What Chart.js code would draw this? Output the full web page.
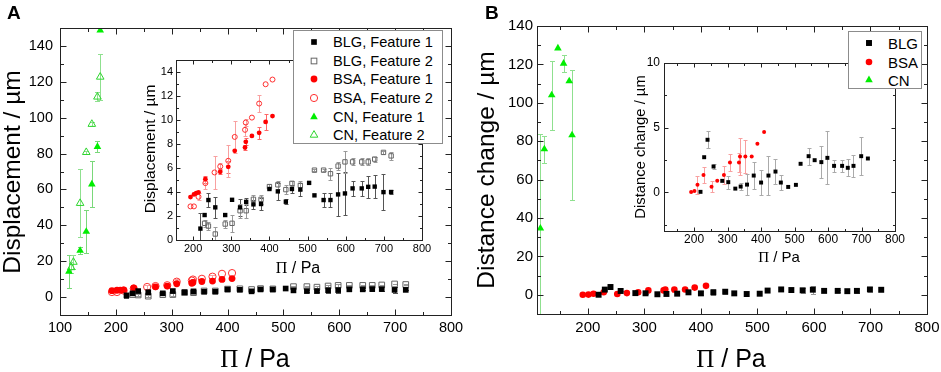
<!DOCTYPE html>
<html>
<head>
<meta charset="utf-8">
<script src="https://cdn.jsdelivr.net/npm/chart.js@4.4.1/dist/chart.umd.min.js"></script>
<style>
html, body { margin: 0; padding: 0; background: #fff; overflow: hidden; }
body { width: 941px; height: 372px; position: relative; font-family: 'Liberation Sans', Arial, sans-serif; }
canvas { position: absolute; }
.legend { position: absolute; background: #fff; border: 1px solid #8c8c8c; box-sizing: border-box; }
.legend span { position: absolute; white-space: nowrap; color: #000; transform: translateY(-50%); }
.legend svg { position: absolute; }
</style>
</head>
<body>
<canvas id="mainA"></canvas>
<canvas id="insetA"></canvas>
<div class="legend" id="legendA"></div>
<canvas id="mainB"></canvas>
<canvas id="insetB"></canvas>
<div class="legend" id="legendB"></div>
<script>
// ---- data ----
// BLG: surface pressure (Pa)
const blgPi = [219, 230, 240, 258, 284, 302, 323, 339, 358, 378, 400, 422, 443, 459, 481, 504, 518, 542, 560, 580, 598, 618, 642, 659, 676, 699, 719];
const blgDisp1 = [0.95, 2.08, 3.33, 2.72, 2.08, 3.35, 2.72, 3.18, 2.97, 3.0, 4.25, 4.05, 3.19, 4.25, 4.2, 4.76, 3.72, 3.33, 3.33, 3.8, 3.88, 4.3, 4.3, 4.43, 4.45, 3.99, 4.0];
const blgDisp1Err = [1.3, 0, 0.55, 0.9, 0, 0, 0.7, 0.3, 0.35, 0.5, 0, 0.7, 0.2, 0.35, 0.55, 0, 0, 0.55, 0.55, 1.8, 1.77, 0.64, 0.64, 0.94, 0.94, 1.48, 0.15];
const blgDisp2 = [null, 1.39, 1.16, 0.5, 1.33, 1.39, 2.44, 2.44, 3.39, 3.39, 4.45, 4.6, 4.2, 4.72, 4.55, null, 5.82, 5.82, 5.52, 6.16, 6.51, 6.51, 6.51, 6.51, 6.74, 7.3, 7.01];
const blgDisp2Err = [0, 0.3, 0.3, 0.6, 0.3, 0.7, 0.6, 0.6, 0.4, 0.4, 0.2, 0.35, 0.35, 0.2, 0.4, 0, 0.1, 0.1, 0.5, 0.3, 0.9, 0.3, 0.3, 0.3, 0.2, 0.1, 0.35];
const blgDist = [0.03, 2.71, 4.06, 1.99, 0.88, 0.78, 0.28, 0.44, 0.59, 1.29, 0.75, 1.29, 1.6, 0.75, 0.41, 0.57, 2.2, 2.79, 2.48, 2.33, 2.66, 2.04, 2.04, 1.89, 2.04, 2.79, 2.61];
const blgDistErr = [0, 0, 0.65, 0.2, 0, 0.5, 0, 0.3, 0.8, 1.05, 1.0, 1.5, 1.0, 0.6, 0, 0, 0, 0.65, 0, 1.25, 2.05, 0.45, 0.45, 0.65, 0.85, 1.45, 0];

// BSA
const bsaPiA = [193, 202, 208, 214, 232, 256, 271, 292, 309, 336, 338, 354, 373, 390, 408];
const bsaDisp1 = [3.58, 3.8, 3.91, 3.97, 5.07, null, 5.68, 6.1, 7.43, 7.71, 8.18, 8.67, 8.93, 9.84, 10.33];
const bsaDisp1Err = [0, 0, 0, 0, 0.3, 0, 0.2, 0.5, 0, 0.2, 0.3, 0, 0.5, 0.7, 0];
const bsaDisp2 = [2.8, 2.8, null, 3.6, 4.74, 5.63, 6.13, 6.6, 8.59, 9.18, 9.79, 10.2, 11.37, 12.98, 13.37];
const bsaDisp2Err = [0, 0, 0, 0.3, 0.5, 1.35, 0.3, 1.35, 1.3, 0.5, 0.3, 0, 0.7, 0, 0];
const bsaPiB = [191, 201, 210, 228, 252, 269, 289, 307, 334, 337, 353, 372, 389, 409];
const bsaDist = [0.02, 0.1, 0.57, 1.34, 0.43, 0.88, 1.34, 2.3, 2.3, 2.77, 2.77, 2.77, 3.75, 4.67];
const bsaDistErr = [0, 0, 0.7, 0.6, 0.45, 0, 0.7, 0.65, 0.75, 1.4, 1.3, 0, 0, 0];

// CN
const cnPi1 = [116, 136, 147, 157, 167, 172];
const cnDisp1 = [14.2, 25.9, 36.5, 62.9, 83.8, 148.7];
const cnDisp1Err = [9, 2, 12, 12.7, 3, 0];
const cnPi2 = [120, 124, 136, 147, 157, 167, 172];
const cnDisp2 = [16.5, 19.5, 52.3, 80.7, 96.4, 111.6, 122.7];
const cnDisp2Err = [3, 4, 19, 1, 1, 2.5, 13];
const cnPiB = [116, 123, 136, 147, 157, 167, 172];
const cnDist = [34.6, 75.9, 104, 128.4, 120.5, 111.3, 83.2];
const cnDistErr = [49, 7, 18, 0, 4.4, 0, 34];

const namesA = ['BLG, Feature 1', 'BLG, Feature 2', 'BSA, Feature 1', 'BSA, Feature 2', 'CN, Feature 1', 'CN, Feature 2'];
const namesB = ['BLG', 'BSA', 'CN'];

// tick labels
const xTicksA = [100, 200, 300, 400, 500, 600, 700, 800];
const xTicksB = [200, 300, 400, 500, 600, 700, 800];
const xTicksInset = [200, 300, 400, 500, 600, 700, 800];
const yTicksMain = [0, 20, 40, 60, 80, 100, 120, 140];
const yTicksInsetA = [0, 2, 4, 6, 8, 10, 12, 14];
const yTicksInsetB = [0, 5, 10];

const xSymbol = 'Π';
const xUnit = ' / Pa';
const yTitleA = 'Displacement / µm';
const yTitleB = 'Distance change / µm';

const FONT = "'Liberation Sans', Arial, sans-serif";
const SERIF = "'Liberation Serif', 'Times New Roman', serif";

const sty = {
    blg1: {pointStyle: 'rect', backgroundColor: '#000', borderColor: '#000', borderWidth: 0, errorColor: '#555'},
    blg2: {pointStyle: 'rect', backgroundColor: 'rgba(0,0,0,0)', borderColor: '#666', borderWidth: 1, errorColor: '#999'},
    bsa1: {pointStyle: 'circle', backgroundColor: '#ff0000', borderColor: '#ff0000', borderWidth: 0, errorColor: '#f66'},
    bsa2: {pointStyle: 'circle', backgroundColor: 'rgba(0,0,0,0)', borderColor: '#ff3030', borderWidth: 1, errorColor: '#f8a0a0'},
    cn1: {pointStyle: 'triangle', backgroundColor: '#00ee00', borderColor: '#00ee00', borderWidth: 0, errorColor: '#7ad87a'},
    cn2: {pointStyle: 'triangle', backgroundColor: 'rgba(0,0,0,0)', borderColor: '#2fd62f', borderWidth: 1, errorColor: '#8fe08f'}
};

function pts(xs, ys) {
    var out = [];
    xs.forEach(function(x, i){
        if (ys[i] !== null) out.push({x: x, y: ys[i]});
    });
    return out;
}

function series(label, xs, ys, es, style, r, errColor) {
    var s = Object.assign({
        label: label,
        data: pts(xs, ys),
        errors: es.filter(function(e, i){ return ys[i] !== null; }),
        pointRadius: r,
        showLine: false
    }, style);
    if (errColor) s.errorColor = errColor;
    return s;
}

function minors(major, min, max) {
    var step = major[1] - major[0];
    var out = [];
    for (var v = major[0] - step / 2; v <= max; v += step) {
        if (v >= min) out.push(v);
    }
    return out;
}

// Origin-like frame: inward ticks on all four sides, error bars, titles
function originAxes(o) {
    return {
        id: 'originAxes',
        beforeDraw: function(chart) {
            var a = chart.chartArea, ctx = chart.ctx;
            ctx.save();
            ctx.fillStyle = '#fff';
            ctx.fillRect(a.left, a.top, a.right - a.left, a.bottom - a.top);
            ctx.restore();
        },
        beforeDatasetsDraw: function(chart) {
            var a = chart.chartArea, ctx = chart.ctx;
            var xs = chart.scales.x, ys = chart.scales.y;
            ctx.save();
            ctx.beginPath();
            ctx.rect(a.left, a.top, a.right - a.left, a.bottom - a.top);
            ctx.clip();
            ctx.lineWidth = 1;
            chart.data.datasets.forEach(function(ds){
                ctx.strokeStyle = ds.errorColor;
                ds.data.forEach(function(p, i){
                    var e = ds.errors[i];
                    if (!e) return;
                    var x = Math.round(xs.getPixelForValue(p.x)) + 0.5;
                    var y1 = Math.round(ys.getPixelForValue(p.y + e)) + 0.5;
                    var y2 = Math.round(ys.getPixelForValue(p.y - e)) + 0.5;
                    ctx.beginPath();
                    ctx.moveTo(x, y1); ctx.lineTo(x, y2);
                    ctx.moveTo(x - o.cap, y1); ctx.lineTo(x + o.cap, y1);
                    ctx.moveTo(x - o.cap, y2); ctx.lineTo(x + o.cap, y2);
                    ctx.stroke();
                });
            });
            ctx.restore();
        },
        afterDraw: function(chart) {
            var a = chart.chartArea, ctx = chart.ctx;
            var xs = chart.scales.x, ys = chart.scales.y;
            var L = Math.round(a.left) + 0.5, R = Math.round(a.right) + 0.5;
            var T = Math.round(a.top) + 0.5, B = Math.round(a.bottom) + 0.5;
            ctx.save();
            ctx.strokeStyle = '#222';
            ctx.lineWidth = 1;
            ctx.strokeRect(L, T, R - L, B - T);
            ctx.beginPath();
            [[o.xTicks, o.major], [minors(o.xTicks, xs.min, xs.max), o.minor]].forEach(function(t){
                t[0].forEach(function(v){
                    if (v < xs.min || v > xs.max) return;
                    var px = Math.round(xs.getPixelForValue(v)) + 0.5;
                    ctx.moveTo(px, B); ctx.lineTo(px, B - t[1]);
                    ctx.moveTo(px, T); ctx.lineTo(px, T + t[1]);
                });
            });
            [[o.yTicks, o.major], [minors(o.yTicks, ys.min, ys.max), o.minor]].forEach(function(t){
                t[0].forEach(function(v){
                    if (v < ys.min || v > ys.max) return;
                    var py = Math.round(ys.getPixelForValue(v)) + 0.5;
                    ctx.moveTo(L, py); ctx.lineTo(L + t[1], py);
                    ctx.moveTo(R, py); ctx.lineTo(R - t[1], py);
                });
            });
            ctx.stroke();

            ctx.fillStyle = '#000';
            ctx.textBaseline = 'middle';
            // y title
            ctx.save();
            ctx.translate(o.yTitle.x, o.yTitle.y);
            ctx.rotate(-Math.PI / 2);
            ctx.textAlign = 'center';
            ctx.font = o.yTitle.size + 'px ' + FONT;
            ctx.fillText(o.yTitle.text, 0, 0);
            ctx.restore();
            // x title, Π in serif
            var serif = o.xTitle.size + 'px ' + SERIF, sans = o.xTitle.size + 'px ' + FONT;
            ctx.font = serif;
            var w1 = ctx.measureText(xSymbol).width;
            ctx.font = sans;
            var w2 = ctx.measureText(xUnit).width;
            var x0 = o.xTitle.x - (w1 + w2) / 2;
            ctx.textAlign = 'left';
            ctx.font = serif;
            ctx.fillText(xSymbol, x0, o.xTitle.y);
            ctx.font = sans;
            ctx.fillText(xUnit, x0 + w1, o.xTitle.y);
            if (o.letter) {
                ctx.textBaseline = 'alphabetic';
                ctx.font = 'bold ' + o.letter.size + 'px ' + FONT;
                ctx.fillText(o.letter.text, o.letter.x, o.letter.y);
            }
            ctx.restore();
        }
    };
}

function makeChart(id, box, datasets, o) {
    var c = document.getElementById(id);
    c.width = box.w; c.height = box.h;
    c.style.left = box.x + 'px'; c.style.top = box.y + 'px';
    return new Chart(c, {
        type: 'scatter',
        data: {datasets: datasets},
        options: {
            responsive: false,
            animation: false,
            devicePixelRatio: 1,
            events: [],
            layout: {padding: {left: 0, top: o.padTop, right: o.padRight, bottom: 0}},
            plugins: {legend: {display: false}, tooltip: {enabled: false}},
            scales: {
                x: {
                    type: 'linear', min: o.xMin, max: o.xMax,
                    afterBuildTicks: function(s){ s.ticks = o.xTicks.map(function(v){ return {value: v}; }); },
                    afterFit: function(s){ s.height = o.xH; },
                    grid: {display: false, drawTicks: false},
                    border: {display: false},
                    ticks: {color: '#000', padding: o.xPad, maxRotation: 0, autoSkip: false, font: {family: FONT, size: o.tick}}
                },
                y: {
                    type: 'linear', min: o.yMin, max: o.yMax,
                    afterBuildTicks: function(s){ s.ticks = o.yTicks.map(function(v){ return {value: v}; }); },
                    afterFit: function(s){ s.width = o.yW; },
                    grid: {display: false, drawTicks: false},
                    border: {display: false},
                    ticks: {color: '#000', padding: o.yPad, autoSkip: false, font: {family: FONT, size: o.tick}}
                }
            }
        },
        plugins: [originAxes(o)]
    });
}

function markerSvg(ds, r, cx, cy) {
    var n = 16, c = 8, shape;
    var fill = ds.borderWidth ? 'none' : ds.backgroundColor;
    var stroke = ds.borderWidth ? ds.borderColor : 'none';
    if (ds.pointStyle === 'rect') {
        var h = r * Math.SQRT1_2;
        shape = '<rect x="' + (c - h) + '" y="' + (c - h) + '" width="' + 2 * h + '" height="' + 2 * h + '"/>';
    } else if (ds.pointStyle === 'circle') {
        shape = '<circle cx="' + c + '" cy="' + c + '" r="' + r + '"/>';
    } else {
        shape = '<polygon points="' + c + ',' + (c - r) + ' ' + (c + r * 0.866) + ',' + (c + r / 2) + ' ' + (c - r * 0.866) + ',' + (c + r / 2) + '"/>';
    }
    return '<svg width="' + n + '" height="' + n + '" style="left:' + (cx - c) + 'px;top:' + (cy - c) + 'px">' +
        '<g fill="' + fill + '" stroke="' + stroke + '" stroke-width="' + (ds.borderWidth || 0) + '">' + shape + '</g></svg>';
}

function buildLegend(id, box, datasets, rows, fontSize) {
    var el = document.getElementById(id);
    el.style.left = box.x + 'px'; el.style.top = box.y + 'px';
    el.style.width = box.w + 'px'; el.style.height = box.h + 'px';
    var html = '';
    datasets.forEach(function(ds, i){
        html += markerSvg(ds, ds.pointRadius, 20, rows[i]);
        html += '<span style="left:39px;top:' + rows[i] + 'px;font-size:' + fontSize + 'px">' + ds.label + '</span>';
    });
    el.innerHTML = html;
}

// ---- panel A ----
var dsMainA = [
    series(namesA[0], blgPi, blgDisp1, blgDisp1Err, sty.blg1, 4),
    series(namesA[1], blgPi, blgDisp2, blgDisp2Err, sty.blg2, 4),
    series(namesA[2], bsaPiA, bsaDisp1, bsaDisp1Err, sty.bsa1, 3.4),
    series(namesA[3], bsaPiA, bsaDisp2, bsaDisp2Err, sty.bsa2, 3.6),
    series(namesA[4], cnPi1, cnDisp1, cnDisp1Err, sty.cn1, 4.4),
    series(namesA[5], cnPi2, cnDisp2, cnDisp2Err, sty.cn2, 4.4)
];
makeChart('mainA', {x: 0, y: 0, w: 470, h: 372}, dsMainA, {
    padTop: 28, padRight: 19, yW: 60, xH: 57, xPad: 4, yPad: 7, tick: 14.5,
    xMin: 100, xMax: 800, yMin: -10, yMax: 150, xTicks: xTicksA, yTicks: yTicksMain,
    major: 6, minor: 3.5, cap: 2.5,
    yTitle: {text: yTitleA, x: 13, y: 172, size: 24.5},
    xTitle: {x: 255, y: 360, size: 25},
    letter: {text: 'A', x: 7, y: 19, size: 19}
});

makeChart('insetA', {x: 125, y: 45, w: 320, h: 240}, [
    series(namesA[0], blgPi, blgDisp1, blgDisp1Err, sty.blg1, 3.1),
    series(namesA[1], blgPi, blgDisp2, blgDisp2Err, sty.blg2, 3.1),
    series(namesA[2], bsaPiA, bsaDisp1, bsaDisp1Err, sty.bsa1, 2.4),
    series(namesA[3], bsaPiA, bsaDisp2, bsaDisp2Err, sty.bsa2, 2.5)
], {
    padTop: 15, padRight: 23, yW: 51, xH: 45, xPad: 2, yPad: 3, tick: 11,
    xMin: 155, xMax: 800, yMin: 0, yMax: 15, xTicks: xTicksInset, yTicks: yTicksInsetA,
    major: 4, minor: 2.5, cap: 2,
    yTitle: {text: yTitleA, x: 26, y: 104, size: 15.5},
    xTitle: {x: 173, y: 224, size: 16}
});

buildLegend('legendA', {x: 293, y: 30, w: 150, h: 114}, dsMainA, [11, 30, 48, 67, 85.7, 104.3], 14.6);

// ---- panel B ----
var dsMainB = [
    series(namesB[0], blgPi, blgDist, blgDistErr, sty.blg1, 4.2, '#999'),
    series(namesB[1], bsaPiB, bsaDist, bsaDistErr, sty.bsa1, 3.3, '#f8a0a0'),
    series(namesB[2], cnPiB, cnDist, cnDistErr, sty.cn1, 4.4, '#8fe08f')
];
makeChart('mainB', {x: 470, y: 0, w: 480, h: 372}, dsMainB, {
    padTop: 26, padRight: 23, yW: 67, xH: 58, xPad: 5, yPad: 4, tick: 15,
    xMin: 110, xMax: 800, yMin: -10, yMax: 140, xTicks: xTicksB, yTicks: yTicksMain,
    major: 6, minor: 3.5, cap: 2.5,
    yTitle: {text: yTitleB, x: 17, y: 170, size: 24.5},
    xTitle: {x: 261, y: 360, size: 25},
    letter: {text: 'B', x: 15, y: 19, size: 19}
});

makeChart('insetB', {x: 615, y: 48, w: 300, h: 230}, [
    series(namesB[0], blgPi, blgDist, blgDistErr, sty.blg1, 2.8, '#aaa'),
    series(namesB[1], bsaPiB, bsaDist, bsaDistErr, sty.bsa1, 2.0, '#f8a0a0')
], {
    padTop: 15, padRight: 20, yW: 49, xH: 47, xPad: 1, yPad: 4, tick: 12,
    xMin: 110, xMax: 800, yMin: -3, yMax: 10, xTicks: xTicksInset, yTicks: yTicksInsetB,
    major: 4, minor: 2.5, cap: 2,
    yTitle: {text: yTitleB, x: 26, y: 99, size: 14.8},
    xTitle: {x: 164, y: 210, size: 15}
});

buildLegend('legendB', {x: 848, y: 31, w: 74, h: 58}, dsMainB, [11.3, 29.7, 48], 15);
</script>
</body>
</html>
